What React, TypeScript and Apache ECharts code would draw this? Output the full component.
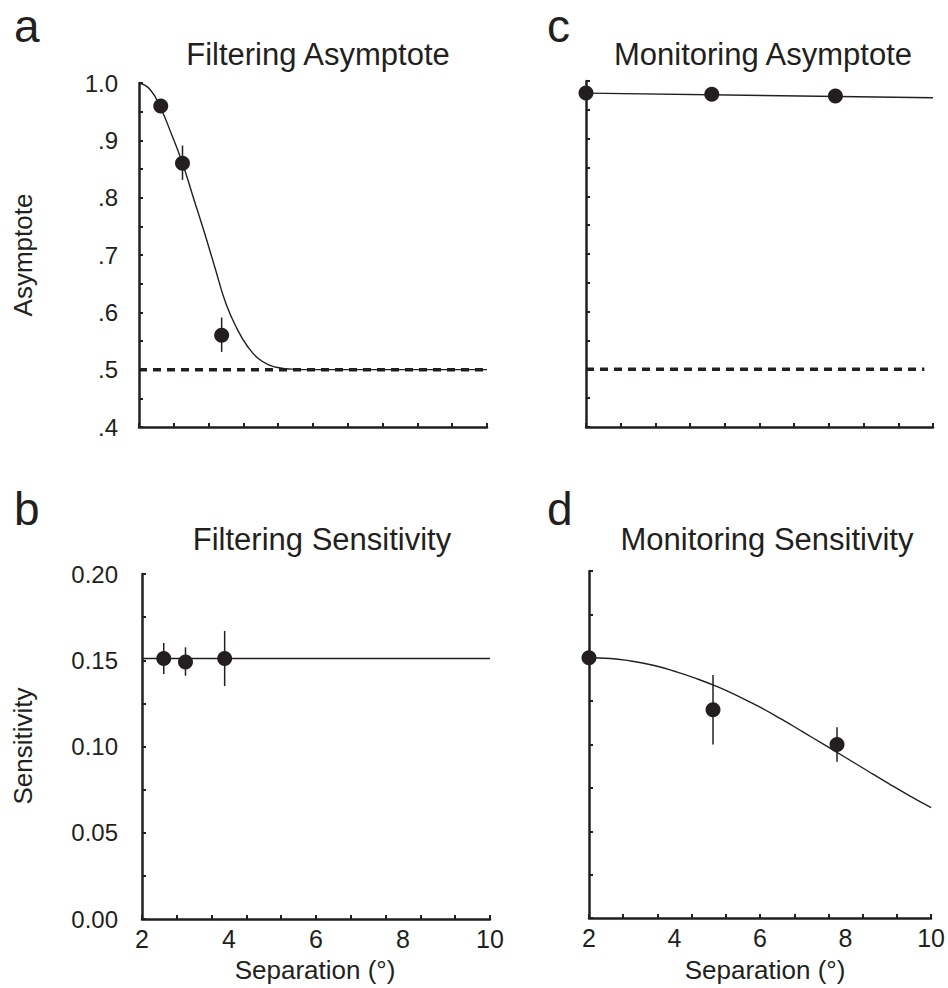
import React, { useEffect, useRef } from "react";
import * as echarts from "echarts";

// ---------- data ----------
const sepTickLabels = ["2", "4", "6", "8", "10"];
const asymTickLabels = [".4", ".5", ".6", ".7", ".8", ".9", "1.0"];
const sensTickLabels = ["0.00", "0.05", "0.10", "0.15", "0.20"];

// panel a: filtering asymptote
const aPointX = [2.5, 3.0, 3.9];
const aPointY = [0.96, 0.86, 0.56];
const aErrLo = [0.955, 0.831, 0.531];
const aErrHi = [0.965, 0.891, 0.591];
const aFitX = [2, 2.25, 2.5, 2.75, 3, 3.25, 3.5, 3.75, 4, 4.25, 4.5, 4.75, 5, 5.25, 5.5, 6, 7, 8, 9, 10];
const aFitY = [1.0, 0.989, 0.956, 0.91, 0.86, 0.8, 0.74, 0.677, 0.615, 0.572, 0.54, 0.519, 0.508, 0.503, 0.501, 0.5, 0.5, 0.5, 0.5, 0.5];
const aChanceX = [2, 10];
const aChanceY = [0.5, 0.5];

// panel c: monitoring asymptote
const cPointX = [2.0, 4.9, 7.75];
const cPointY = [0.979, 0.977, 0.974];
const cFitX = [2, 10];
const cFitY = [0.979, 0.971];
const cChanceX = [2, 9.8];
const cChanceY = [0.5, 0.5];

// panel b: filtering sensitivity
const bPointX = [2.5, 3.0, 3.9];
const bPointY = [0.151, 0.149, 0.151];
const bErrLo = [0.142, 0.141, 0.135];
const bErrHi = [0.160, 0.1575, 0.167];
const bFitX = [2, 10];
const bFitY = [0.151, 0.151];

// panel d: monitoring sensitivity
const dPointX = [2.0, 4.9, 7.8];
const dPointY = [0.15, 0.12, 0.1];
const dErrLo = [0.15, 0.1, 0.09];
const dErrHi = [0.15, 0.14, 0.11];
const dFitX = [2, 2.5, 3, 3.5, 4, 4.5, 5, 5.5, 6, 6.5, 7, 7.5, 8, 8.5, 9, 9.5, 10];
const dFitY = [0.15, 0.1496, 0.148, 0.1457, 0.1422, 0.1381, 0.1333, 0.1277, 0.1215, 0.1146, 0.1073, 0.0999, 0.0925, 0.085, 0.0776, 0.0704, 0.0636];

const INK = "#231f20";
const FONT = "'Liberation Sans', Arial, Helvetica, sans-serif";

const zip = (xs: number[], ys: number[]) => xs.map((x, i) => [x, ys[i]]);
const zip3 = (xs: number[], lo: number[], hi: number[]) => xs.map((x, i) => [x, lo[i], hi[i]]);

export default function App() {
  const ref = useRef<HTMLDivElement>(null);

  useEffect(() => {
    if (!ref.current) return;
    const chart = echarts.init(ref.current, undefined, { renderer: "svg" });

    const grids = [
      { left: 139, top: 83, width: 348, height: 344 }, // a
      { left: 586, top: 81, width: 347, height: 346 }, // c
      { left: 142, top: 574, width: 348, height: 345 }, // b
      { left: 589, top: 571, width: 348, height: 347 }, // d
    ];

    const axisLine = { show: true, lineStyle: { color: INK, width: 2.5 } };
    const tick = { show: true, inside: true, length: 4, lineStyle: { color: INK, width: 2 } };

    const xAxes: any[] = [];
    grids.forEach((_, g) => {
      const bottomRow = g >= 2;
      xAxes.push({
        type: "value",
        gridIndex: g,
        position: "bottom",
        min: 2,
        max: 10,
        interval: 2,
        axisLine,
        axisTick: { show: false },
        splitLine: { show: false },
        axisLabel: {
          show: bottomRow,
          color: INK,
          fontSize: 25,
          fontFamily: FONT,
          margin: 7,
          formatter: (v: number) => sepTickLabels[Math.round((v - 2) / 2)] ?? "",
        },
      });
      xAxes.push({
        type: "value",
        gridIndex: g,
        position: "bottom",
        min: 0,
        max: 10,
        interval: 1,
        axisLine: { show: false },
        axisTick: tick,
        splitLine: { show: false },
        axisLabel: { show: false },
      });
    });

    const mkY = (g: number, min: number, max: number, step: number, labels: string[] | null) => ({
      type: "value",
      gridIndex: g,
      min,
      max,
      interval: step,
      axisLine,
      axisTick: tick,
      splitLine: { show: false },
      axisLabel: {
        show: !!labels,
        color: INK,
        fontSize: 24,
        fontFamily: FONT,
        margin: labels === sensTickLabels ? 24 : 21,
        formatter: (v: number) => {
          if (!labels) return "";
          const k = Math.round((v - min) / step);
          return k % 2 === 0 ? labels[k / 2] ?? "" : "";
        },
      },
    });

    const yAxes = [
      mkY(0, 0.4, 1.0, 0.05, asymTickLabels),
      mkY(1, 0.4, 1.0, 0.05, null),
      mkY(2, 0, 0.2, 0.025, sensTickLabels),
      mkY(3, 0, 0.2, 0.025, null),
    ];

    const fit = (g: number, xs: number[], ys: number[]) => ({
      type: "line",
      xAxisIndex: g * 2,
      yAxisIndex: g,
      data: zip(xs, ys),
      smooth: 0.5,
      showSymbol: false,
      symbol: "none",
      lineStyle: { color: INK, width: 1.4 },
      silent: true,
      z: 2,
    });
    const chance = (g: number, xs: number[], ys: number[]) => ({
      type: "line",
      xAxisIndex: g * 2,
      yAxisIndex: g,
      data: zip(xs, ys),
      symbol: "none",
      lineStyle: { color: INK, width: 3.5, type: [8, 6] },
      silent: true,
      z: 1,
    });
    const pts = (g: number, xs: number[], ys: number[]) => ({
      type: "scatter",
      xAxisIndex: g * 2,
      yAxisIndex: g,
      data: zip(xs, ys),
      symbol: "circle",
      symbolSize: 15,
      itemStyle: { color: INK, opacity: 1 },
      clip: false,
      z: 4,
    });
    const err = (g: number, xs: number[], lo: number[], hi: number[]) => ({
      type: "custom",
      xAxisIndex: g * 2,
      yAxisIndex: g,
      data: zip3(xs, lo, hi),
      encode: { x: 0, y: [1, 2] },
      z: 3,
      renderItem: (params: any, api: any) => {
        const x = api.value(0);
        const p1 = api.coord([x, api.value(1)]);
        const p2 = api.coord([x, api.value(2)]);
        return {
          type: "line",
          shape: { x1: p1[0], y1: p1[1], x2: p2[0], y2: p2[1] },
          style: { stroke: INK, lineWidth: 1.5 },
        };
      },
    });

    const series = [
      chance(0, aChanceX, aChanceY),
      fit(0, aFitX, aFitY),
      err(0, aPointX, aErrLo, aErrHi),
      pts(0, aPointX, aPointY),
      chance(1, cChanceX, cChanceY),
      fit(1, cFitX, cFitY),
      pts(1, cPointX, cPointY),
      fit(2, bFitX, bFitY),
      err(2, bPointX, bErrLo, bErrHi),
      pts(2, bPointX, bPointY),
      fit(3, dFitX, dFitY),
      err(3, dPointX, dErrLo, dErrHi),
      pts(3, dPointX, dPointY),
    ];

    const txt = (text: string, x: number, y: number, size: number, align = "center", rotation = 0) => ({
      type: "text",
      x,
      y,
      rotation,
      style: {
        text,
        fill: INK,
        font: `${size}px ${FONT}`,
        textAlign: align,
        textVerticalAlign: "middle",
      },
    });

    const graphic = [
      txt("a", 14, 26, 46, "left"),
      txt("b", 14, 509, 46, "left"),
      txt("c", 547, 26, 46, "left"),
      txt("d", 547, 509, 46, "left"),
      txt("Filtering Asymptote", 318, 54, 31),
      txt("Monitoring Asymptote", 763, 54, 31),
      txt("Filtering Sensitivity", 322, 539, 31),
      txt("Monitoring Sensitivity", 767, 539, 31),
      txt("Asymptote", 23, 255, 26, "center", Math.PI / 2),
      txt("Sensitivity", 23, 746, 26, "center", Math.PI / 2),
      txt("Separation (°)", 315, 970, 26),
      txt("Separation (°)", 765, 970, 26),
    ];

    chart.setOption({
      animation: false,
      backgroundColor: "#ffffff",
      grid: grids.map((g) => ({ ...g, containLabel: false })),
      xAxis: xAxes,
      yAxis: yAxes,
      series,
      graphic,
    });

    return () => chart.dispose();
  }, []);

  return (
    <div
      ref={ref}
      style={{ position: "absolute", left: 0, top: 0, width: 948, height: 988, background: "#fff" }}
    />
  );
}
